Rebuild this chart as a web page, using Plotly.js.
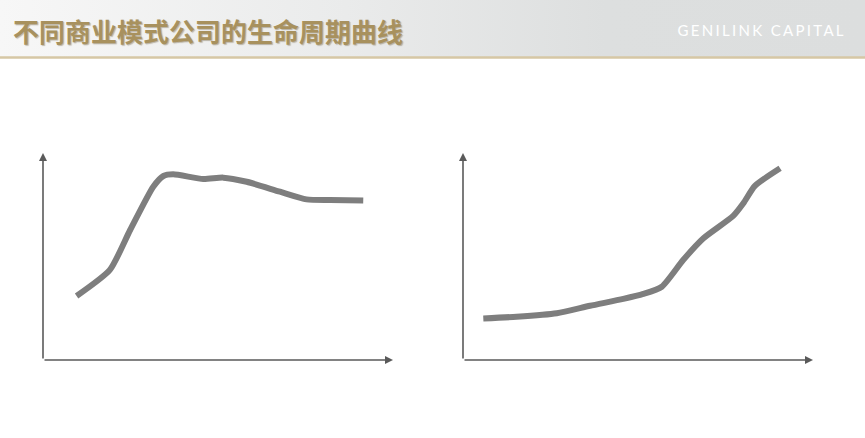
<!DOCTYPE html>
<html>
<head>
<meta charset="utf-8">
<script src="https://cdn.plot.ly/plotly-3.0.1.min.js"></script>
<style>
  html, body { margin: 0; padding: 0; background: #ffffff; }
  #wrap { position: relative; width: 865px; height: 438px; }
  #band { position: absolute; left: 0; top: 0; width: 865px; height: 57px;
          background: linear-gradient(to right, #f7f7f7 0%, #eaebeb 40%, #dddfdf 70%, #dcdede 100%); }
  #chart { position: absolute; left: 0; top: 0; width: 865px; height: 438px; }
  .annotation[data-index="1"] text { letter-spacing: 2.3px; }
</style>
</head>
<body>
<div id="wrap">
  <div id="band"></div>
  <div id="chart"></div>
</div>
<script>
// Curve 1: rise then plateau / slight decline
const curve1X = [9.6, 19.1, 24.9, 31.5, 34.4, 37.2, 45.8, 51.5, 58.2, 67.7, 75.3, 82.0, 91.5];
const curve1Y = [30.9, 43.5, 62.8, 83.7, 88.9, 89.7, 87.4, 88.1, 86.1, 81.3, 77.6, 77.3, 77.0];
// Curve 2: slow start then accelerating growth
const curve2X = [5.8, 15.3, 26.8, 36.3, 45.8, 51.5, 56.8, 62.9, 68.7, 77.2, 80.1, 83.4, 90.6];
const curve2Y = [20.1, 20.9, 22.6, 26.2, 29.5, 31.9, 35.4, 48.3, 58.8, 69.6, 75.7, 84.1, 92.6];

const titleText = "不同商业模式公司的生命周期曲线";
const brandText = "GENILINK CAPITAL";

const W = 865, H = 438;
const lineStyle = { color: '#7e7e7e', width: 6, shape: 'spline', smoothing: 0.6 };

const data = [
  { x: curve1X, y: curve1Y, xaxis: 'x', yaxis: 'y', mode: 'lines', line: lineStyle, hoverinfo: 'skip' },
  { x: curve2X, y: curve2Y, xaxis: 'x2', yaxis: 'y2', mode: 'lines', line: lineStyle, hoverinfo: 'skip' }
];

const axBase = { range: [0, 100], showgrid: false, zeroline: false, showticklabels: false,
                 ticks: '', showline: false, fixedrange: true };
const yDom = [(H - 360) / H, (H - 153) / H];

function axisArrows(xr, yr) {
  const common = { showarrow: true, arrowhead: 2, arrowsize: 1, arrowwidth: 1.6, arrowcolor: '#5a5a5a',
                   text: '', xref: xr, yref: yr, axref: xr, ayref: yr, standoff: 0, startstandoff: 0 };
  return [
    Object.assign({}, common, { x: 0, y: 100, ax: 0, ay: 0 }),
    Object.assign({}, common, { x: 100, y: 0, ax: 0, ay: 0 })
  ];
}

const layout = {
  width: W, height: H,
  margin: { l: 0, r: 0, t: 0, b: 0 },
  paper_bgcolor: 'rgba(0,0,0,0)',
  plot_bgcolor: 'rgba(0,0,0,0)',
  showlegend: false,
  xaxis: Object.assign({}, axBase, { domain: [43 / W, 393 / W] }),
  yaxis: Object.assign({}, axBase, { domain: yDom }),
  xaxis2: Object.assign({}, axBase, { domain: [463 / W, 813 / W], anchor: 'y2' }),
  yaxis2: Object.assign({}, axBase, { domain: yDom, anchor: 'x2' }),
  shapes: [
    { type: 'line', xref: 'paper', yref: 'paper', x0: 0, x1: 1, y0: (H - 57.5) / H, y1: (H - 57.5) / H,
      line: { color: '#d6c7a5', width: 2.5 } }
  ],
  annotations: [
    { text: titleText, xref: 'paper', yref: 'paper', x: 11 / W, y: (H - 30) / H,
      xanchor: 'left', yanchor: 'middle', showarrow: false,
      font: { family: 'Noto Sans CJK SC, sans-serif', size: 26, color: '#a8915e', weight: 700,
              shadow: '1px 1px 1px rgba(90,70,30,0.35)' } },
    { text: brandText, xref: 'paper', yref: 'paper', x: 694 / W, y: (H - 30) / H,
      xanchor: 'left', yanchor: 'middle', showarrow: false,
      font: { family: 'Lato, Open Sans, sans-serif', size: 15, color: '#ffffff' } }
  ].concat(axisArrows('x', 'y'), axisArrows('x2', 'y2'))
};

Plotly.newPlot('chart', data, layout, { displayModeBar: false, staticPlot: true });
</script>
</body>
</html>
